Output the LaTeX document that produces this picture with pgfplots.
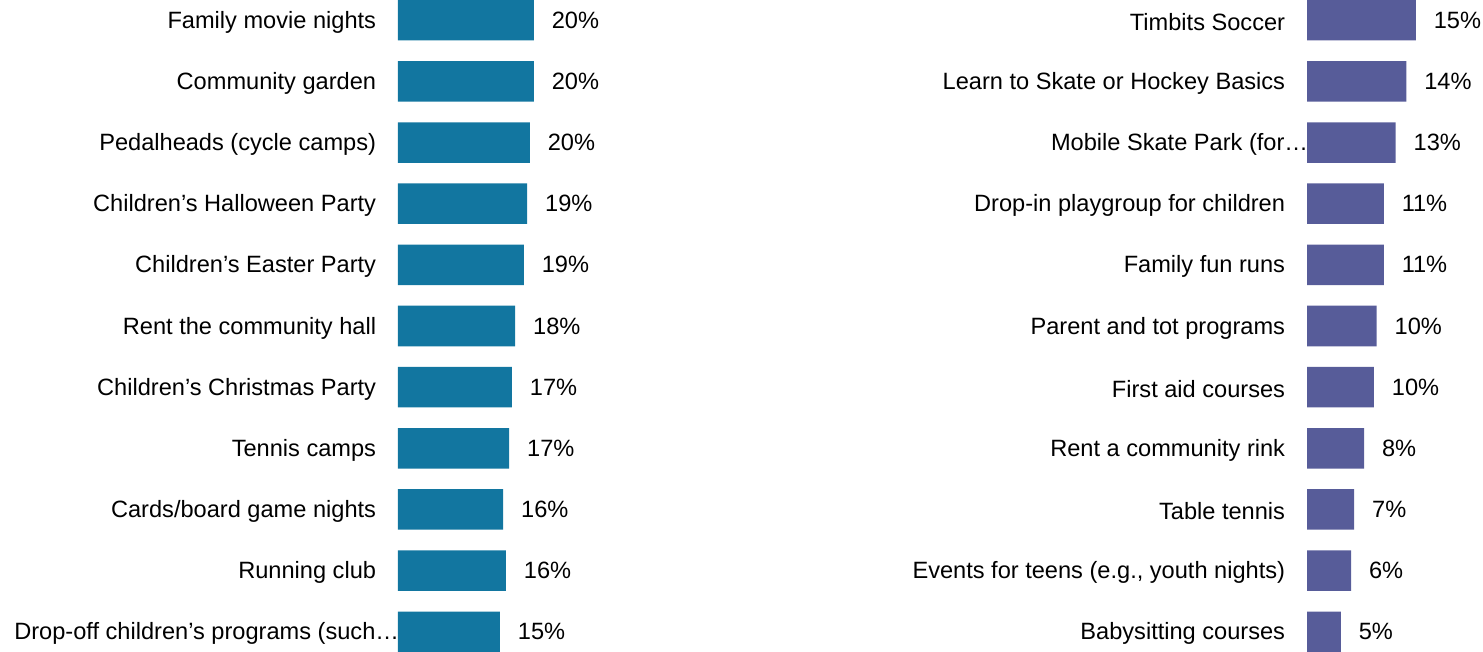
\documentclass[border=0pt]{standalone}
\usepackage{fontspec}
\setmainfont{Liberation Sans}
\usepackage{pgfplots}
\usepackage{pgfplotstable}
\pgfplotsset{compat=1.18}

\definecolor{leftbar}{RGB}{18,118,160}
\definecolor{rightbar}{RGB}{87,92,153}

% y = row (0 at top), val = bar length, lab = shown percent
\pgfplotstableread{
y val lab
0 20.4 20
1 20.4 20
2 19.8 20
3 19.4 19
4 18.9 19
5 17.6 18
6 17.1 17
7 16.7 17
8 15.8 16
9 16.2 16
10 15.3 15
}\lefttable

\pgfplotstableread{
y val lab
0 15.45 15
1 14.1 14
2 12.6 13
3 10.9 11
4 10.9 11
5 9.9 10
6 9.5 10
7 8.1 8
8 6.7 7
9 6.25 6
10 4.8 5
}\righttable

\pgfplotsset{
  panel/.style={
    scale only axis,
    height=326pt,
    xbar,
    bar width=20.25pt,
    y dir=reverse,
    ymin=-0.331, ymax=10.331,
    xmin=0,
    ytick=data,
    xtick=\empty,
    axis line style={draw=none},
    tick style={draw=none},
    yticklabel style={anchor=east, inner sep=0pt, xshift=-6.5pt, yshift=-1pt},
    nodes near coords={\pgfplotspointmeta\%},
    point meta=explicit symbolic,
    nodes near coords style={anchor=west, inner sep=0pt, xshift=8.8pt},
    clip=false,
  },
}

\begin{document}
\begin{tikzpicture}[font=\fontsize{11.8}{14}\selectfont]
\begin{axis}[panel,
  at={(199pt,0pt)}, anchor=south west,
  width=100pt, xmax=30.03,
  yticklabels={Family movie nights, Community garden, Pedalheads (cycle camps),
    Children’s Halloween Party, Children’s Easter Party, Rent the community hall,
    Children’s Christmas Party, Tennis camps, Cards/board game nights, Running club,
    {Drop-off children’s programs (such…\kern-11.5pt}},
]
  \addplot[fill=leftbar, draw=none] table[x=val, y=y, meta=lab] {\lefttable};
\end{axis}

\begin{axis}[panel,
  at={(653.5pt,0pt)}, anchor=south west,
  width=80pt, xmax=22.727,
  yticklabels={Timbits Soccer, Learn to Skate or Hockey Basics, {Mobile Skate Park (for…\kern-11.5pt},
    Drop-in playgroup for children, Family fun runs, Parent and tot programs,
    First aid courses, Rent a community rink, Table tennis,
    {Events for teens (e.g., youth nights)}, Babysitting courses},
]
  \addplot[fill=rightbar, draw=none] table[x=val, y=y, meta=lab] {\righttable};
\end{axis}

\pgfresetboundingbox
\path[use as bounding box] (0,0) rectangle (741.5pt,326pt);
\end{tikzpicture}
\end{document}
